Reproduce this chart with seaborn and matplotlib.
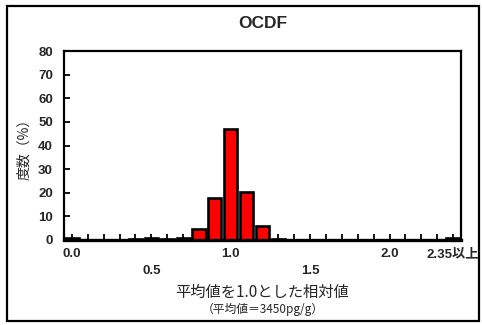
import matplotlib
matplotlib.use("Agg")
import matplotlib.pyplot as plt
from matplotlib.patches import Rectangle
import seaborn as sns
import pandas as pd

# Relative-value bins (mean = 1.0); last bin collects everything at or above 2.35
bins = ["0.0", "0.1", "0.2", "0.3", "0.4", "0.5", "0.6", "0.7", "0.8", "0.9",
        "1.0", "1.1", "1.2", "1.3", "1.4", "1.5", "1.6", "1.7", "1.8", "1.9",
        "2.0", "2.1", "2.2", "2.3", "2.35以上"]
freq_pct = [0.8, 0.0, 0.0, 0.0, 0.4, 0.8, 0.5, 0.7, 4.5, 17.7,
            46.9, 20.5, 6.0, 0.6, 0.0, 0.0, 0.0, 0.0, 0.0, 0.0,
            0.0, 0.0, 0.0, 0.0, 1.0]
# Only these bins get a printed label; the second-row ones are pushed down a line
shown_row1 = ["0.0", "1.0", "2.0", "2.35以上"]
shown_row2 = ["0.5", "1.5"]
y_ticks = [0, 10, 20, 30, 40, 50, 60, 70, 80]

title = "OCDF"
x_label = "平均値を1.0とした相対値"
x_note = "（平均値＝3450pg/g）"
y_label = "度数（%）"

sns.set_theme(style="white")
plt.rcParams["font.family"] = ["Liberation Sans", "Noto Sans CJK JP"]

W, H = 482, 325
fig = plt.figure(figsize=(W / 100, H / 100), dpi=100)
ax = fig.add_axes([64 / W, 1 - 240 / H, (461 - 64) / W, (240 - 51) / H])

df = pd.DataFrame({"bin": bins, "freq": freq_pct})
sns.barplot(data=df, x="bin", y="freq", order=bins, color="#ff0000",
            saturation=1, width=0.83, edgecolor="black", linewidth=1.9, ax=ax)

ax.set_xlim(-0.5, len(bins) - 0.5)
ax.set_ylim(0, 80)
ax.set_yticks(y_ticks)
ax.set_yticklabels([str(v) for v in y_ticks], fontsize=9.5, fontweight="bold")

labels = []
for b in bins:
    if b in shown_row1:
        labels.append(b)
    elif b in shown_row2:
        labels.append("\n" + b)
    else:
        labels.append("")
ax.set_xticks(range(len(bins)))
ax.set_xticklabels(labels, fontsize=9.5, fontweight="bold", linespacing=1.5)

ax.tick_params(axis="x", direction="in", length=4, width=1.3, color="black",
               pad=6, bottom=True, zorder=5)
ax.tick_params(axis="y", direction="in", length=4, width=1.3, color="black",
               pad=8, left=True)

for side in ["left", "top", "right"]:
    ax.spines[side].set_color("black")
    ax.spines[side].set_linewidth(1.6)
ax.spines["bottom"].set_color("black")
ax.spines["bottom"].set_linewidth(2.4)

ax.set_xlabel("")
ax.set_ylabel(y_label, fontsize=10, family=["Noto Sans CJK JP"], labelpad=5)

cx = (64 + 461) / 2 / W
fig.text(cx, 1 - 23 / H, title, ha="center", va="center",
         fontsize=12.5, fontweight="bold")
fig.text(cx, 1 - 292 / H, x_label, ha="center", va="center",
         fontsize=11, family=["Noto Sans CJK JP"])
fig.text(cx, 1 - 309 / H, x_note, ha="center", va="center",
         fontsize=8.5, family=["Noto Sans CJK JP"])

fig.patches.append(Rectangle((7 / W, 1 - 321 / H), (479 - 7) / W, (321 - 6) / H,
                             transform=fig.transFigure, fill=False,
                             edgecolor="black", linewidth=1.6))

fig.savefig("out.png", dpi=100, facecolor="white")
